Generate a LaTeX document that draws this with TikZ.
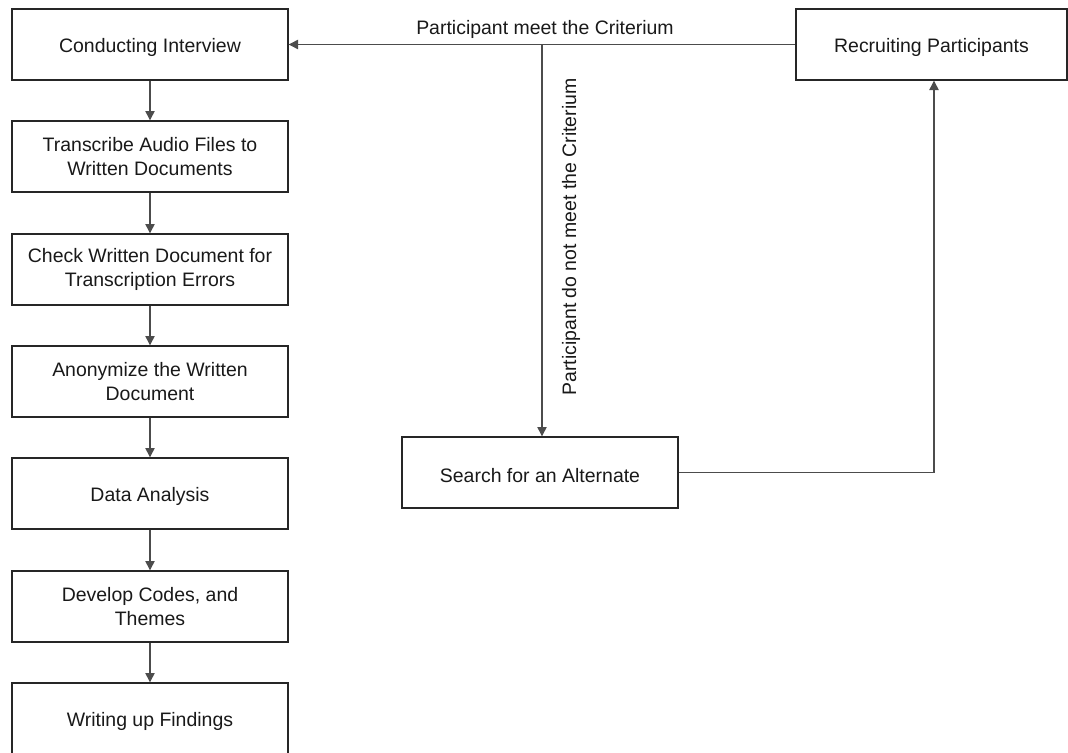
\documentclass[tikz,border=0pt]{standalone}
\usepackage{fontspec}
\setmainfont{Liberation Sans}
\usetikzlibrary{arrows.meta}
\newcommand{\dn}[1]{\raisebox{-2.2pt}[\height][\depth]{#1}}
\begin{document}
\begin{tikzpicture}[x=0.75pt,y=-0.75pt,
  box/.style={draw=black!85,line width=1pt,rectangle,minimum width=207pt,minimum height=53.25pt,inner sep=0pt,align=center,font=\fontsize{14.6}{18}\selectfont,text=black!90},
  conn/.style={draw=black!70,line width=0.8pt,-{Triangle[length=7pt,width=7pt]}},
  lbl/.style={font=\fontsize{14.6}{18}\selectfont,text=black!90,inner sep=0pt}]
\clip (0,0) rectangle (1068,753);
\node[box] (ci) at (150,44.5) {\dn{Conducting Interview}};
\node[box] (ta) at (150,156.5) {Transcribe Audio Files to\\Written Documents};
\node[box] (cw) at (150,269.5) {Check Written Document for\\Transcription Errors};
\node[box] (an) at (150,381.5) {Anonymize the Written\\Document};
\node[box] (da) at (150,493.5) {\dn{Data Analysis}};
\node[box] (dc) at (150,606.5) {Develop Codes, and\\Themes};
\node[box] (wf) at (150,718.5) {\dn{Writing up Findings}};
\node[box,minimum width=203.25pt] (rp) at (931.5,44.5) {\dn{Recruiting Participants}};
\node[box] (sa) at (540,472.5) {\dn{Search for an Alternate}};
\draw[conn] (ci) -- (ta);
\draw[conn] (ta) -- (cw);
\draw[conn] (cw) -- (an);
\draw[conn] (an) -- (da);
\draw[conn] (da) -- (dc);
\draw[conn] (dc) -- (wf);
\coordinate (jn) at (542,44.5);
\draw[conn] (rp.west) -- (ci.east);
\draw[conn] (jn) -- (jn |- sa.north);
\coordinate (cr) at (934,472.5);
\draw[conn] (sa.east) -- (cr) -- (cr |- rp.south);
\node[lbl] (l1) at (545,29) {Participant meet the Criterium};
\node[lbl,rotate=90] (l2) at (571,237) {Participant do not meet the Criterium};
\end{tikzpicture}
\end{document}
